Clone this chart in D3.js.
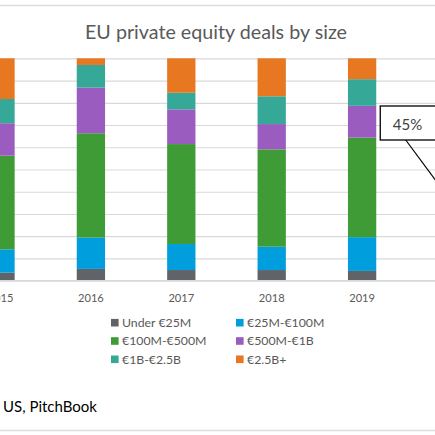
<!DOCTYPE html>
<html>
<head>
<meta charset="utf-8">
<script src="https://cdn.jsdelivr.net/npm/d3@7/dist/d3.min.js"></script>
<style>
	html, body { margin: 0; padding: 0; background: #fff; }
	svg { display: block; font-family: Lato, "Open Sans", sans-serif; }
</style>
</head>
<body>
<svg id="chart" width="435" height="435"></svg>
<script>
// Chart data (share of deal value, %)
const years = ['2015', '2016', '2017', '2018', '2019'];
const sizeBuckets = ['Under €25M', '€25M-€100M', '€100M-€500M', '€500M-€1B', '€1B-€2.5B', '€2.5B+'];
const under25M = [3.6, 5.3, 4.8, 4.8, 4.4];
const from25Mto100M = [10.5, 14.1, 11.7, 10.5, 15.2];
const from100Mto500M = [42.1, 46.9, 45.0, 43.8, 44.8];
const from500Mto1B = [14.6, 20.5, 15.6, 11.4, 14.3];
const from1Bto2_5B = [10.9, 10.2, 7.5, 12.5, 12.0];
const over2_5B = [18.3, 3.0, 15.5, 17.1, 9.4];
const gridTicks = [0, 0.1, 0.2, 0.3, 0.4, 0.5, 0.6, 0.7, 0.8, 0.9, 1];
const bucketColors = ['#606368', '#009edc', '#3f9b35', '#9b5cbf', '#35a898', '#e87722'];
const titleText = 'EU private equity deals by size';
const calloutText = '45%';
const sourceText = 'US, PitchBook';

let svg = d3.select('#chart');
let
	x,
	y,
	color
;

const buildTable = () => {
	// one row per year, one column per bucket
	let columns = [under25M, from25Mto100M, from100Mto500M, from500Mto1B, from1Bto2_5B, over2_5B];
	return years.map((year, i) => {
		let row = { year: year };
		sizeBuckets.forEach((b, j) => { row[b] = columns[j][i]; });
		return row;
	});
};

const drawFrame = () => {
	// thin rules of the surrounding slide
	svg.append('line').attr('x1', 0).attr('x2', 435).attr('y1', 5.5).attr('y2', 5.5)
		.attr('stroke', '#dcdcdc').attr('stroke-width', 1.5);
	svg.append('line').attr('x1', 0).attr('x2', 435).attr('y1', 430.5).attr('y2', 430.5)
		.attr('stroke', '#dcdcdc').attr('stroke-width', 1.5);

	svg.append('text')
		.attr('x', 216).attr('y', 39)
		.attr('text-anchor', 'middle')
		.attr('font-size', 19.7)
		.attr('fill', '#595959')
		.text(titleText);
};

const drawBars = () => {
	let table = buildTable();
	// plot area runs past the crop on both sides
	x = d3.scaleBand().domain(years).range([-44.7, 407.3]).paddingInner(0.687).paddingOuter(0.3435);
	y = d3.scaleLinear().domain([0, 1]).range([280.7, 58.3]);
	color = d3.scaleOrdinal().domain(sizeBuckets).range(bucketColors);

	// gridlines
	let grid = svg.append('g').attr('transform', 'translate(-60,0)')
		.call(d3.axisLeft(y).tickValues(gridTicks).tickSize(-560).tickFormat(''));
	grid.select('.domain').remove();
	grid.selectAll('.tick line').attr('stroke', '#d9d9d9').attr('stroke-width', 1.2);

	let series = d3.stack().keys(sizeBuckets).offset(d3.stackOffsetExpand)(table);

	svg.append('g')
		.selectAll('g')
		.data(series)
		.enter()
		.append('g')
		.attr('fill', (d) => color(d.key))
		.selectAll('rect')
		.data((d) => d)
		.enter()
		.append('rect')
		.attr('x', (d) => x(d.data.year))
		.attr('y', (d) => y(d[1]))
		.attr('width', x.bandwidth())
		.attr('height', (d) => y(d[0]) - y(d[1]));

	// category axis
	let xAxis = svg.append('g').attr('transform', `translate(0,${y(0)})`)
		.call(d3.axisBottom(x).tickSize(0).tickPadding(13.5));
	xAxis.select('.domain').remove();
	xAxis.append('line').attr('x1', -60).attr('x2', 500).attr('stroke', '#d9d9d9').attr('stroke-width', 1.5);
	xAxis.selectAll('.tick text')
		.attr('font-family', 'Lato, "Open Sans", sans-serif')
		.attr('font-size', 11.1)
		.attr('fill', '#595959');
};

const drawLegend = () => {
	let legend = svg.append('g')
		.selectAll('g')
		.data(sizeBuckets)
		.enter()
		.append('g')
		.attr('transform', (d, i) => `translate(${111 + (i % 2) * 125},${322.7 + Math.floor(i / 2) * 18.3})`);
	legend.append('rect')
		.attr('y', -3.8).attr('width', 7.6).attr('height', 7.6)
		.attr('fill', (d) => color(d));
	legend.append('text')
		.attr('x', 11).attr('dy', '0.36em')
		.attr('font-size', 12.3)
		.attr('fill', '#595959')
		.text((d) => d);
};

const drawCallout = () => {
	let boxX = x('2019') + x.bandwidth() + 4;
	let g = svg.append('g');
	// leader line goes off to the right
	g.append('line')
		.attr('x1', boxX + 24).attr('y1', 138)
		.attr('x2', boxX + 24 + 46).attr('y2', 138 + 62)
		.attr('stroke', '#000').attr('stroke-width', 1.2);
	g.append('rect')
		.attr('x', boxX).attr('y', 106)
		.attr('width', 80).attr('height', 34)
		.attr('fill', '#fff').attr('stroke', '#000').attr('stroke-width', 1.3);
	g.append('text')
		.attr('x', boxX + 12.5).attr('y', 129.5)
		.attr('font-size', 15)
		.attr('fill', '#404040')
		.text(calloutText);
};

const drawSource = () => {
	svg.append('text')
		.attr('x', 3).attr('y', 412)
		.attr('font-size', 15)
		.attr('fill', '#000')
		.text(sourceText);
};

drawFrame();
drawBars();
drawLegend();
drawCallout();
drawSource();
</script>
</body>
</html>
